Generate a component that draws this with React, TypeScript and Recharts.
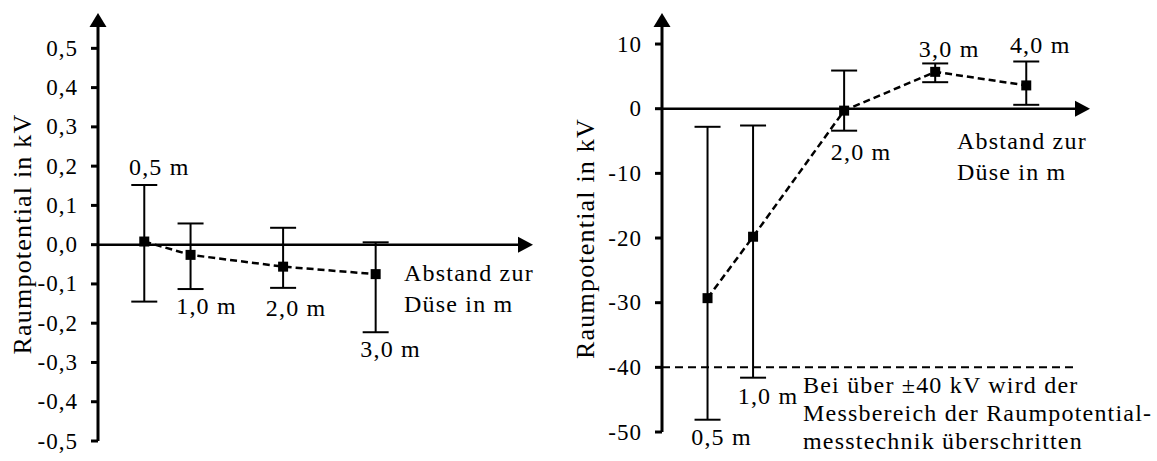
import React from 'react';
import {
  ComposedChart,
  Line,
  XAxis,
  YAxis,
  ErrorBar,
  LabelList,
  ReferenceLine
} from 'recharts';

// Left panel: small potentials (kV), distance from nozzle in m
const leftDistance = [0.5, 1.0, 2.0, 3.0];
const leftMean = [0.008, -0.026, -0.056, -0.075];
const leftLow = [-0.145, -0.113, -0.11, -0.223];
const leftHigh = [0.152, 0.054, 0.043, 0.006];
const leftTicks = [-0.5, -0.4, -0.3, -0.2, -0.1, 0, 0.1, 0.2, 0.3, 0.4, 0.5];
const leftLabels = ['0,5 m', '1,0 m', '2,0 m', '3,0 m'];

// Right panel: large potentials (kV)
const rightDistance = [0.5, 1.0, 2.0, 3.0, 4.0];
const rightMean = [-29.3, -19.8, -0.3, 5.7, 3.6];
const rightLow = [-48.1, -41.6, -3.4, 4.1, 0.6];
const rightHigh = [-2.8, -2.6, 5.9, 7.0, 7.3];
const rightTicks = [-50, -40, -30, -20, -10, 0, 10];
const rightLabels = ['0,5 m', '1,0 m', '2,0 m', '3,0 m', '4,0 m'];

const yTitle = 'Raumpotential in kV';
const xTitle = ['Abstand zur', 'Düse in m'];
const limitNote = ['Bei über ±40 kV wird der', 'Messbereich der Raumpotential-', 'messtechnik überschritten'];

const FONT = 'Liberation Serif, Times New Roman, serif';

// where each point label sits relative to its marker (px)
const leftLabelOffsets = [[15, -75], [16, 51], [13, 41], [15, 75]];
const rightLabelOffsets = [[14, 139], [15, 159], [17, 41], [14, -23], [14, -40]];

const buildRows = (dist: number[], mean: number[], low: number[], high: number[], labels: string[]) =>
  dist.map((d, i) => ({
    x: d,
    y: mean[i],
    err: [mean[i] - low[i], high[i] - mean[i]],
    label: labels[i]
  }));

const leftData = buildRows(leftDistance, leftMean, leftLow, leftHigh, leftLabels);
const rightData = buildRows(rightDistance, rightMean, rightLow, rightHigh, rightLabels);

const SquareDot = (p: any) => {
  if (p.cx == null || p.cy == null) return null;
  return <rect key={`dot-${p.index}`} x={p.cx - 5} y={p.cy - 5} width={10} height={10} fill="#000" />;
};

const makeTick = (fmt: (v: number) => string) => (p: any) => (
  <text
    x={p.x}
    y={p.y}
    textAnchor="end"
    dominantBaseline="central"
    fill="#000"
    fontFamily={FONT}
    fontSize={23}
    style={{ letterSpacing: 1 }}
  >
    {fmt(p.payload.value)}
  </text>
);

const fmtLeft = (v: number) => v.toFixed(1).replace('.', ',');
const fmtRight = (v: number) => String(v);

const makePointLabel = (offsets: number[][]) => (p: any) => {
  const [dx, dy] = offsets[p.index] || [0, 0];
  return (
    <text
      x={p.x + dx}
      y={p.y + dy}
      textAnchor="middle"
      dominantBaseline="central"
      fill="#000"
      fontFamily={FONT}
      fontSize={24}
      style={{ letterSpacing: 1.2 }}
    >
      {p.value}
    </text>
  );
};

// y axis drawn as an arrow pointing up, with the rotated title beside it
const yAxisArrow = (labelDx: number, labelDy: number) => (p: any) => {
  const x = p.x1;
  const top = Math.min(p.y1, p.y2);
  const bottom = Math.max(p.y1, p.y2);
  const L = 14;
  const W = 8.5;
  const cx = x + labelDx;
  const cy = (top + bottom) / 2 + labelDy;
  return (
    <g>
      <line x1={x} y1={bottom} x2={x} y2={top + L} stroke="#000" strokeWidth={3} />
      <polygon points={`${x},${top} ${x - W},${top + L} ${x + W},${top + L}`} fill="#000" />
      <text
        x={cx}
        y={cy}
        transform={`rotate(-90, ${cx}, ${cy})`}
        textAnchor="middle"
        dominantBaseline="central"
        fill="#000"
        fontFamily={FONT}
        fontSize={26}
        style={{ letterSpacing: 1.2 }}
      >
        {yTitle}
      </text>
    </g>
  );
};

// x axis drawn as an arrow pointing right, with the two-line title under its tip
const xAxisArrow = (titleDx: number, titleDy: number) => (p: any) => {
  const y = p.y1;
  const left = Math.min(p.x1, p.x2);
  const right = Math.max(p.x1, p.x2);
  const L = 15;
  const W = 8;
  return (
    <g>
      <line x1={left} y1={y} x2={right - L} y2={y} stroke="#000" strokeWidth={2.5} />
      <polygon points={`${right},${y} ${right - L},${y - W} ${right - L},${y + W}`} fill="#000" />
      {xTitle.map((t, i) => (
        <text
          key={t}
          x={right + titleDx}
          y={y + titleDy + i * 31}
          dominantBaseline="central"
          fill="#000"
          fontFamily={FONT}
          fontSize={24}
          style={{ letterSpacing: 1.2 }}
        >
          {t}
        </text>
      ))}
    </g>
  );
};

// measuring-range limit, note text placed under it starting at its right part
const limitLine = (p: any) => {
  const y = p.y1;
  const left = Math.min(p.x1, p.x2);
  const right = Math.max(p.x1, p.x2);
  return (
    <g>
      <line x1={left} y1={y} x2={right} y2={y} stroke="#000" strokeWidth={2} strokeDasharray="8 5" />
      {limitNote.map((t, i) => (
        <text
          key={t}
          x={left + 141}
          y={y + 18 + i * 28}
          dominantBaseline="central"
          fill="#000"
          fontFamily={FONT}
          fontSize={24}
          style={{ letterSpacing: 1.2 }}
        >
          {t}
        </text>
      ))}
    </g>
  );
};

export default function App() {
  return (
    <div style={{ position: 'absolute', left: 0, top: 0, width: 1157, height: 461, background: '#fff' }}>
      <div style={{ position: 'absolute', left: 0, top: 0 }}>
        <ComposedChart
          width={560}
          height={461}
          data={leftData}
          margin={{ top: 13, right: 27, bottom: 20, left: 0 }}
        >
          <XAxis type="number" dataKey="x" domain={[0, 4.7]} hide />
          <YAxis
            type="number"
            domain={[-0.5, 0.59]}
            ticks={leftTicks}
            width={98}
            axisLine={false}
            tickLine={{ stroke: '#000', strokeWidth: 3 }}
            tickSize={7}
            tickMargin={13}
            tick={makeTick(fmtLeft)}
            interval={0}
          />
          <ReferenceLine
            segment={[{ x: 0, y: -0.5 }, { x: 0, y: 0.59 }]}
            ifOverflow="visible"
            shape={yAxisArrow(-76, 7)}
          />
          <ReferenceLine
            segment={[{ x: 0, y: 0 }, { x: 4.7, y: 0 }]}
            ifOverflow="visible"
            shape={xAxisArrow(-129, 28)}
          />
          <Line
            type="linear"
            dataKey="y"
            stroke="#000"
            strokeWidth={2.5}
            strokeDasharray="7 4"
            dot={SquareDot}
            activeDot={false}
            isAnimationActive={false}
          >
            <ErrorBar dataKey="err" direction="y" width={13} stroke="#000" strokeWidth={2} isAnimationActive={false} />
            <LabelList dataKey="label" content={makePointLabel(leftLabelOffsets)} />
          </Line>
        </ComposedChart>
      </div>
      <div style={{ position: 'absolute', left: 560, top: 0 }}>
        <ComposedChart
          width={597}
          height={461}
          data={rightData}
          margin={{ top: 13, right: 67, bottom: 29, left: 0 }}
        >
          <XAxis type="number" dataKey="x" domain={[0, 4.7]} hide />
          <YAxis
            type="number"
            domain={[-50, 14.8]}
            ticks={rightTicks}
            width={102}
            axisLine={false}
            tickLine={{ stroke: '#000', strokeWidth: 3 }}
            tickSize={7}
            tickMargin={13}
            tick={makeTick(fmtRight)}
            interval={0}
          />
          <ReferenceLine
            segment={[{ x: 0, y: -50 }, { x: 0, y: 14.8 }]}
            ifOverflow="visible"
            shape={yAxisArrow(-77, 16)}
          />
          <ReferenceLine
            segment={[{ x: 0, y: 0 }, { x: 4.7, y: 0 }]}
            ifOverflow="visible"
            shape={xAxisArrow(-133, 32)}
          />
          <ReferenceLine
            segment={[{ x: 0, y: -40 }, { x: 4.55, y: -40 }]}
            ifOverflow="visible"
            shape={limitLine}
          />
          <Line
            type="linear"
            dataKey="y"
            stroke="#000"
            strokeWidth={2.5}
            strokeDasharray="7 4"
            dot={SquareDot}
            activeDot={false}
            isAnimationActive={false}
          >
            <ErrorBar dataKey="err" direction="y" width={13} stroke="#000" strokeWidth={2} isAnimationActive={false} />
            <LabelList dataKey="label" content={makePointLabel(rightLabelOffsets)} />
          </Line>
        </ComposedChart>
      </div>
    </div>
  );
}
